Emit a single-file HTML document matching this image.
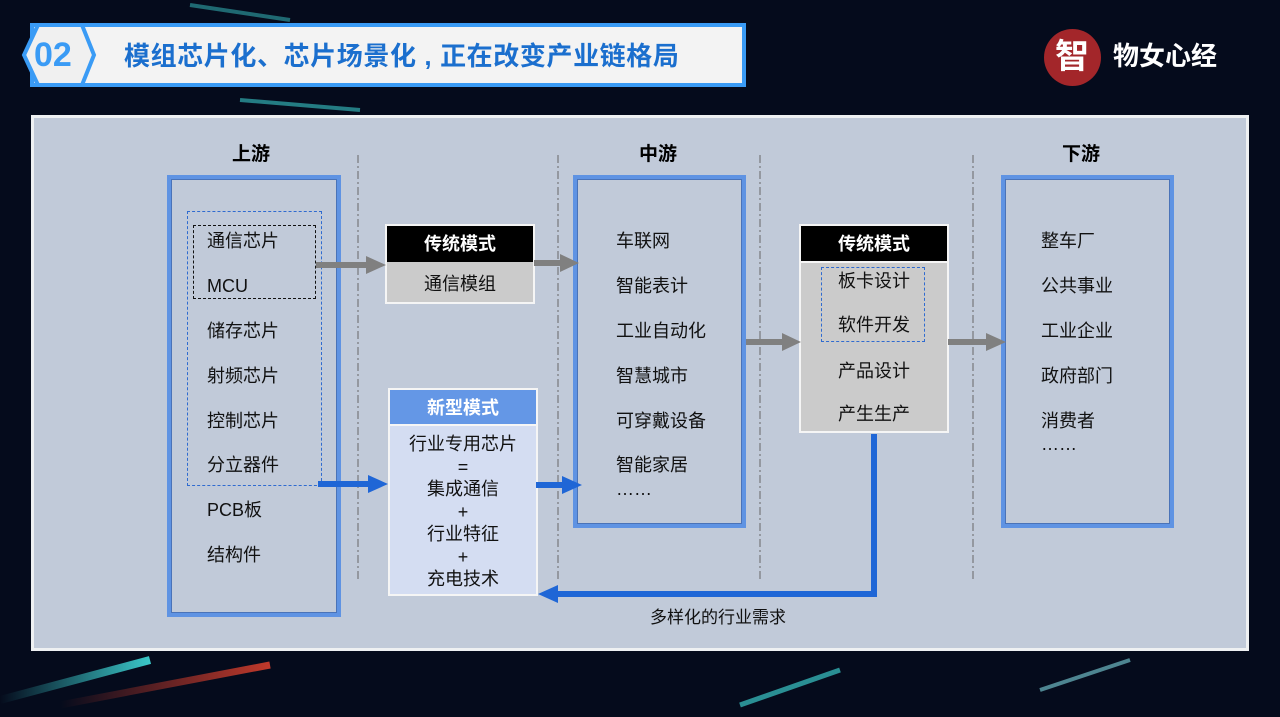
<!DOCTYPE html>
<html><head><meta charset="utf-8"><style>
*{margin:0;padding:0;box-sizing:border-box}
body{width:1280px;height:717px;overflow:hidden;background:#050b1c;position:relative;font-family:"Liberation Sans","Noto Sans CJK SC",sans-serif}
.a{position:absolute}
.t{position:absolute;font-size:18px;color:#111;white-space:nowrap;line-height:22px}
.col{position:absolute;border:4px solid #5f93e3;box-shadow:inset 0 0 0 1px #4a73b8}
.hd{position:absolute;font-size:19px;font-weight:bold;color:#000}
</style></head><body>
<svg class="a" style="left:0;top:0" width="1280" height="717">
<defs><linearGradient id="g1" x1="0" x2="1"><stop offset="0" stop-color="#3ac7c8" stop-opacity="0"/><stop offset="1" stop-color="#3ac7c8"/></linearGradient>
<linearGradient id="g2" x1="0" x2="1"><stop offset="0" stop-color="#c0392b" stop-opacity="0"/><stop offset="1" stop-color="#c0392b"/></linearGradient></defs>
<path d="M0 700 L150 660" stroke="url(#g1)" stroke-width="8"/>
<path d="M60 705 L270 665" stroke="url(#g2)" stroke-width="7"/>
<path d="M740 705 L840 670" stroke="#3ac7c8" stroke-width="5" opacity=".7"/>
<path d="M1040 690 L1130 660" stroke="#7fd6e0" stroke-width="4" opacity=".6"/>
<path d="M240 100 L360 110" stroke="#3ac7c8" stroke-width="4" opacity=".6"/>
<path d="M190 5 L290 20" stroke="#3ac7c8" stroke-width="4" opacity=".5"/>
</svg>
<div class="a" style="left:30px;top:23px;width:716px;height:64px;background:#f3f3f3;border:4px solid #3a9bf5"></div>
<svg class="a" style="left:18px;top:23px" width="80" height="64"><polygon points="20,2 64,2 76,32 64,62 20,62 6,32" fill="#f0f0f0" stroke="#3a9bf5" stroke-width="4"/></svg>
<div class="a" style="left:34px;top:34px;font-size:34px;font-weight:bold;color:#3a9bf5;line-height:42px">02</div>
<div class="a" style="left:124px;top:40px;font-size:26px;font-weight:bold;color:#1b6fce;line-height:32px;white-space:nowrap;letter-spacing:0.6px">模组芯片化、芯片场景化 , 正在改变产业链格局</div>
<div class="a" style="left:1044px;top:29px;width:57px;height:57px;border-radius:50%;background:#a3262a"></div>
<div class="a" style="left:1055px;top:36px;font-size:34px;color:#fff;line-height:42px;font-weight:bold">智</div>
<div class="a" style="left:1113px;top:40px;font-size:26px;font-weight:bold;color:#fff;line-height:32px">物女心经</div>
<div class="a" style="left:31px;top:115px;width:1218px;height:536px;background:#c1cad9;border:3px solid #eef0f2"></div>
<svg class="a" style="left:0;top:0" width="1280" height="717">
<g stroke="#666" stroke-width="1" stroke-dasharray="8,3,2,3">
<line x1="358" y1="155" x2="358" y2="580"/><line x1="558" y1="155" x2="558" y2="580"/>
<line x1="760" y1="155" x2="760" y2="580"/><line x1="973" y1="155" x2="973" y2="580"/></g>
</svg>
<div class="hd" style="left:232px;top:139px">上游</div>
<div class="hd" style="left:639px;top:139px">中游</div>
<div class="hd" style="left:1062px;top:139px">下游</div>
<div class="col" style="left:167px;top:175px;width:174px;height:442px"></div>
<div class="col" style="left:573px;top:175px;width:173px;height:353px"></div>
<div class="col" style="left:1001px;top:175px;width:173px;height:353px"></div>
<div class="a" style="left:187px;top:211px;width:135px;height:275px;border:1px dashed #2f6bd0"></div>
<div class="a" style="left:193px;top:225px;width:123px;height:74px;border:1px dashed #111"></div>
<div class="t" style="left:207px;top:230px">通信芯片</div>
<div class="t" style="left:207px;top:275px">MCU</div>
<div class="t" style="left:207px;top:320px">储存芯片</div>
<div class="t" style="left:207px;top:365px">射频芯片</div>
<div class="t" style="left:207px;top:410px">控制芯片</div>
<div class="t" style="left:207px;top:454px">分立器件</div>
<div class="t" style="left:207px;top:499px">PCB板</div>
<div class="t" style="left:207px;top:544px">结构件</div>
<div class="a" style="left:385px;top:224px;width:150px;height:80px;background:#cbcbcb;border:2px solid #f5f5f5"></div>
<div class="a" style="left:387px;top:226px;width:146px;height:36px;background:#000;color:#fff;font-weight:bold;font-size:18px;text-align:center;line-height:36px">传统模式</div>
<div class="t" style="left:387px;top:273px;width:146px;text-align:center">通信模组</div>
<div class="a" style="left:388px;top:388px;width:150px;height:208px;background:#d4ddf2;border:2px solid #f5f5f5"></div>
<div class="a" style="left:390px;top:390px;width:146px;height:36px;background:#6497e6;color:#fff;font-weight:bold;font-size:18px;text-align:center;line-height:36px;border-bottom:2px solid #f5f5f5">新型模式</div>
<div class="a" style="left:390px;top:433px;width:146px;text-align:center;font-size:18px;line-height:22.5px;color:#111">行业专用芯片<br>=<br>集成通信<br>+<br>行业特征<br>+<br>充电技术</div>
<div class="t" style="left:616px;top:230px">车联网</div>
<div class="t" style="left:616px;top:275px">智能表计</div>
<div class="t" style="left:616px;top:320px">工业自动化</div>
<div class="t" style="left:616px;top:365px">智慧城市</div>
<div class="t" style="left:616px;top:410px">可穿戴设备</div>
<div class="t" style="left:616px;top:454px">智能家居</div>
<div class="t" style="left:616px;top:478px">……</div>
<div class="a" style="left:799px;top:224px;width:150px;height:209px;background:#cbcbcb;border:2px solid #f5f5f5"></div>
<div class="a" style="left:801px;top:226px;width:146px;height:37px;background:#000;color:#fff;font-weight:bold;font-size:18px;text-align:center;line-height:37px;border-bottom:2px solid #f5f5f5">传统模式</div>
<div class="a" style="left:821px;top:267px;width:104px;height:75px;border:1px dashed #2f6bd0"></div>
<div class="t" style="left:801px;top:270px;width:146px;text-align:center">板卡设计</div>
<div class="t" style="left:801px;top:314px;width:146px;text-align:center">软件开发</div>
<div class="t" style="left:801px;top:360px;width:146px;text-align:center">产品设计</div>
<div class="t" style="left:801px;top:403px;width:146px;text-align:center">产生生产</div>
<div class="t" style="left:1041px;top:230px">整车厂</div>
<div class="t" style="left:1041px;top:275px">公共事业</div>
<div class="t" style="left:1041px;top:320px">工业企业</div>
<div class="t" style="left:1041px;top:365px">政府部门</div>
<div class="t" style="left:1041px;top:410px">消费者</div>
<div class="t" style="left:1041px;top:433px">……</div>
<div class="t" style="left:650px;top:607px;font-size:17px">多样化的行业需求</div>
<svg class="a" style="left:0;top:0" width="1280" height="717">
<g fill="#808080">
<rect x="316" y="262" width="52" height="6"/><polygon points="366,256 386,265 366,274"/>
<rect x="534" y="260" width="28" height="6"/><polygon points="560,254 579,263 560,272"/>
<rect x="746" y="339" width="38" height="6"/><polygon points="782,333 801,342 782,351"/>
<rect x="948" y="339" width="40" height="6"/><polygon points="986,333 1006,342 986,351"/>
</g>
<g fill="#1f66d6">
<rect x="318" y="481" width="52" height="6"/><polygon points="368,475 388,484 368,493"/>
<rect x="536" y="482" width="28" height="6"/><polygon points="562,476 582,485 562,494"/>
<rect x="871" y="434" width="6" height="163"/><rect x="556" y="591" width="321" height="6"/>
<polygon points="558,585 538,594 558,603"/>
</g>
</svg>
</body></html>
